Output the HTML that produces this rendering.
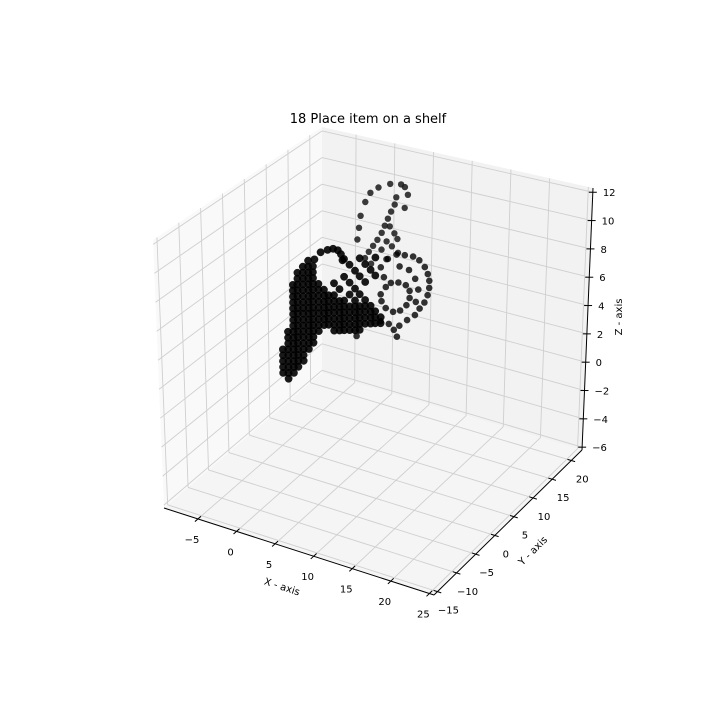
<!DOCTYPE html>
<html><head><meta charset="utf-8"><style>
html,body{margin:0;padding:0;background:#fff;}
svg{display:block;font-family:"DejaVu Sans","Liberation Sans",sans-serif;}
</style></head><body>
<svg id="chart" width="720" height="720" viewBox="0 0 720 720" xmlns="http://www.w3.org/2000/svg">
<rect width="720" height="720" fill="#fff"/>
<text x="368" y="123" font-size="13" text-anchor="middle" fill="#000">18 Place item on a shelf</text>
<g id="panes"></g><g id="grid"></g><g id="axes"></g><g id="points"></g>
<text transform="translate(282,587) rotate(18)" font-size="10" text-anchor="middle" dominant-baseline="middle">X - axis</text>
<text transform="translate(533,551) rotate(-45)" font-size="10" text-anchor="middle" dominant-baseline="middle">Y - axis</text>
<text transform="translate(619,317) rotate(-90)" font-size="10" text-anchor="middle" dominant-baseline="middle">Z - axis</text>
</svg>
<script>
const xTicks = [-5, 0, 5, 10, 15, 20, 25];
const yTicks = [-15, -10, -5, 0, 5, 10, 15, 20];
const zTicks = [-6, -4, -2, 0, 2, 4, 6, 8, 10, 12];
const xRange = [-9.4, 25.6];
const yRange = [-15.9, 22.8];
const zRange = [-6.2, 12.3];

// body cluster (mid depth)
const xBody = [-4.2,
-4.9,-4.2,-3.5,
-4.9,-4.2,-3.5,-2.9,
-4.9,-4.2,-3.5,-2.9,-2.2,
-4.9,-4.2,-3.5,-2.9,-2.2,
-4.9,-4.2,-3.5,-2.9,-2.2,-1.5,
-4.2,-3.5,-2.9,-2.2,-1.5,-0.9,
-4.2,-3.5,-2.9,-2.2,-1.5,-0.9,
-4.2,-3.5,-2.9,-2.2,-1.5,-0.9,-0.2,1.8,2.5,3.1,3.8,4.5,5.1,
-3.5,-2.9,-2.2,-1.5,-0.9,-0.2,0.5,1.1,1.8,2.5,3.1,3.8,4.5,5.1,5.8,6.5,7.1,7.8,
-3.5,-2.9,-2.2,-1.5,-0.9,-0.2,0.5,1.1,1.8,2.5,3.1,3.8,4.5,5.1,5.8,6.5,7.1,7.8,
-3.5,-2.9,-2.2,-1.5,-0.9,-0.2,0.5,1.1,1.8,2.5,3.1,3.8,4.5,5.1,5.8,6.5,7.1,
-3.5,-2.9,-2.2,-1.5,-0.9,-0.2,0.5,1.1,1.8,2.5,3.1,3.8,4.5,5.1,5.8,6.5,
-3.5,-2.9,-2.2,-1.5,-0.9,-0.2,0.5,1.1,1.8,2.5,3.1,4.5,5.8,
-3.5,-2.9,-2.2,-1.5,-0.9,-0.2,0.5,1.1,1.8,3.8,5.1,
-3.5,-2.9,-2.2,-1.5,-0.9,-0.2,0.5,2.5,4.5,
-3.5,-2.9,-2.2,-1.5,-0.9,-0.2,1.8,3.8,5.8,
-2.9,-2.2,-1.5,-0.9,3.1,5.1,7.1,
-2.9,-2.2,-1.5,-0.9,4.5,6.5,
-2.2,-1.5,-0.9,3.8,5.8,
-1.5,3.1,5.1,7.1,
-0.7,0.1,1.0,1.7,2.3,2.7,2.9];
const zBody = [-1.35,
-1.04,-0.93,-0.82,
-0.62,-0.51,-0.4,-0.29,
-0.2,-0.09,0.02,0.13,0.24,
0.22,0.33,0.44,0.55,0.66,
0.64,0.75,0.86,0.97,1.08,1.19,
1.17,1.28,1.39,1.5,1.61,1.72,
1.59,1.7,1.81,1.92,2.03,2.14,
2.01,2.12,2.23,2.34,2.45,2.56,2.66,2.99,3.1,3.21,3.32,3.42,3.53,
2.54,2.65,2.76,2.87,2.98,3.08,3.19,3.3,3.41,3.52,3.63,3.74,3.84,3.95,4.06,4.17,4.28,4.39,
2.96,3.07,3.18,3.29,3.4,3.5,3.61,3.72,3.83,3.94,4.05,4.16,4.26,4.37,4.48,4.59,4.7,4.81,
3.38,3.49,3.6,3.71,3.82,3.92,4.03,4.14,4.25,4.36,4.47,4.58,4.68,4.79,4.9,5.01,5.12,
3.79,3.9,4.01,4.12,4.23,4.33,4.44,4.55,4.66,4.77,4.88,4.99,5.09,5.2,5.31,5.42,
4.21,4.32,4.43,4.54,4.65,4.75,4.86,4.97,5.08,5.19,5.3,5.51,5.73,
4.63,4.74,4.85,4.96,5.07,5.17,5.28,5.39,5.5,5.83,6.04,
5.05,5.16,5.27,5.38,5.49,5.59,5.7,6.03,6.35,
5.47,5.58,5.69,5.8,5.91,6.01,6.34,6.67,6.99,
6.0,6.11,6.22,6.33,6.98,7.3,7.63,
6.42,6.53,6.64,6.75,7.61,7.94,
6.95,7.06,7.17,7.93,8.25,
7.48,8.24,8.56,8.89,
7.68,8.3,8.59,8.77,8.74,8.52,8.12];
const yBody = 5.2;

// rings (mid depth)
const xRing = [8.7,9.8,10.85,11.9,12.7,13.4,13.8,14.0,14.0,13.8,13.4,12.8,12.2,11.2,10.2,7.8,8.2,
8.45,9.1,10.05,11.0,11.5,11.5,11.1,10.3,9.4,8.45,7.9,7.8,
10.2,11.4,12.2,12.6,12.3,
4.7,9.9,9.5,7.8,8.85];
const zRing = [9.01,9.46,9.56,9.6,9.45,9.07,8.65,8.2,7.71,7.18,6.62,6.11,5.58,5.09,4.56,8.3,7.66,
7.01,7.39,7.55,7.49,7.16,6.67,6.11,5.63,5.41,5.54,5.94,6.41,
8.69,8.6,8.1,7.4,6.51,
3.04,3.75,4.17,4.52,4.49];
const yRing = 5.2;

// arc and spike (far depth)
const xArc = [-2.1,-2.3,-1.5,-0.85,0.2,1.7,3.1,3.6,4.0,3.6,-2.5,
2.5,2.3,1.85,1.45,1.05,0.65,0.1,-0.45,-1.0,-1.5,1.7,2.3,1.3,0.65,2.0,2.7,2.8,-0.7,1.3];
const zArc = [7.6,6.69,8.7,9.46,9.99,10.45,10.6,10.47,9.96,8.96,5.8,
9.58,9.02,8.45,7.88,7.31,6.74,6.15,5.63,5.11,4.58,7.35,6.93,6.2,5.51,5.94,6.57,5.58,4.28,4.9];
const yArc = 18.7;

const C = {
 '000':[164,508],'100':[434,595],'010':[322,373],'110':[582,450],
 '001':[153,240],'101':[436,309],'011':[322,127],'111':[593,188]
};
function lerp(a,b,t){return [a[0]+(b[0]-a[0])*t,a[1]+(b[1]-a[1])*t];}
function P(x,y,z){
 const fx=(x-xRange[0])/(xRange[1]-xRange[0]);
 const fy=(y-yRange[0])/(yRange[1]-yRange[0]);
 const fz=(z-zRange[0])/(zRange[1]-zRange[0]);
 const a=lerp(C['000'],C['100'],fx), b=lerp(C['010'],C['110'],fx);
 const c=lerp(C['001'],C['101'],fx), d=lerp(C['011'],C['111'],fx);
 return lerp(lerp(a,b,fy),lerp(c,d,fy),fz);
}
const NS='http://www.w3.org/2000/svg';
function mk(tag,attrs,parent){const e=document.createElementNS(NS,tag);for(const k in attrs)e.setAttribute(k,attrs[k]);parent.appendChild(e);return e;}
const X0=xRange[0],X1=xRange[1],Y0=yRange[0],Y1=yRange[1],Z0=zRange[0],Z1=zRange[1];
function poly(pts){return pts.map(p=>p[0].toFixed(1)+','+p[1].toFixed(1)).join(' ');}

const gP=document.getElementById('panes');
let el;
el=mk('polygon',{points:poly([P(X0,Y0,Z0),P(X0,Y1,Z0),P(X0,Y1,Z1),P(X0,Y0,Z1)]),fill:'#f9f9f9'},gP);


el=mk('polygon',{points:poly([P(X0,Y1,Z0),P(X1,Y1,Z0),P(X1,Y1,Z1),P(X0,Y1,Z1)]),fill:'#f2f2f2'},gP);


el=mk('polygon',{points:poly([P(X0,Y0,Z0),P(X1,Y0,Z0),P(X1,Y1,Z0),P(X0,Y1,Z0)]),fill:'#f5f5f5'},gP);



const gG=document.getElementById('grid');
function gl(a,b,name){const e=mk('line',{x1:a[0],y1:a[1],x2:b[0],y2:b[1],stroke:'#cfcfcf','stroke-width':0.9},gG);

}
xTicks.forEach(v=>{gl(P(v,Y0,Z0),P(v,Y1,Z0),'x-gridline');gl(P(v,Y1,Z0),P(v,Y1,Z1),'x-gridline');});
yTicks.forEach(v=>{gl(P(X0,v,Z0),P(X1,v,Z0),'y-gridline');gl(P(X0,v,Z0),P(X0,v,Z1),'y-gridline');});
zTicks.forEach(v=>{gl(P(X0,Y0,v),P(X0,Y1,v),'z-gridline');gl(P(X0,Y1,v),P(X1,Y1,v),'z-gridline');});

const gA=document.getElementById('axes');
function axLine(a,b,name){const e=mk('line',{x1:a[0],y1:a[1],x2:b[0],y2:b[1],stroke:'#000','stroke-width':1},gA);

}
axLine(P(X0,Y0,Z0),P(X1,Y0,Z0),'x-axis-line');
axLine(P(X1,Y0,Z0),P(X1,Y1,Z0),'y-axis-line');
axLine(P(X1,Y1,Z0),P(X1,Y1,Z1),'z-axis-line');
function unit(a,b){const dx=b[0]-a[0],dy=b[1]-a[1],l=Math.hypot(dx,dy);return [dx/l,dy/l];}
function tick(p,u,name){const e=mk('line',{x1:p[0]-u[0]*4,y1:p[1]-u[1]*4,x2:p[0]+u[0]*4,y2:p[1]+u[1]*4,stroke:'#000','stroke-width':1},gA);

}
function lab(x,y,s,anchor,name){const e=mk('text',{x:x,y:y,'font-size':10,'text-anchor':anchor,'dominant-baseline':'middle',fill:'#000'},gA);e.textContent=s;

}
function fmt(v){return v<0?'\u2212'+Math.abs(v):String(v);}
xTicks.forEach(v=>{const p=P(v,Y0,Z0);tick(p,unit(P(v,Y0,Z0),P(v,Y1,Z0)),'x-tick');lab(p[0]-6,p[1]+21,fmt(v),'middle','x-tick-label');});
yTicks.forEach(v=>{const p=P(X1,v,Z0);tick(p,unit(P(X0,v,Z0),P(X1,v,Z0)),'y-tick');lab(p[0]+11,p[1]+19,fmt(v),'middle','y-tick-label');});
zTicks.forEach(v=>{const p=P(X1,Y1,v);tick(p,[1,0],'z-tick');lab(p[0]+10,p[1]+1,fmt(v),'start','z-tick-label');});

const gPts=document.getElementById('points');
function dot(x,y,z,fill,op,r){const p=P(x,y,z);const e=mk('circle',{cx:p[0].toFixed(1),cy:p[1].toFixed(1),r:r,fill:fill,'fill-opacity':op},gPts);

}
xArc.forEach((x,i)=>dot(x,yArc,zArc[i],'#1a1a1a',0.85,3.2));
xRing.forEach((x,i)=>dot(x,yRing,zRing[i],'#000',0.8,3.3));
xBody.forEach((x,i)=>dot(x,yBody,zBody[i],'#000',0.9,3.9));
</script>
</body></html>
